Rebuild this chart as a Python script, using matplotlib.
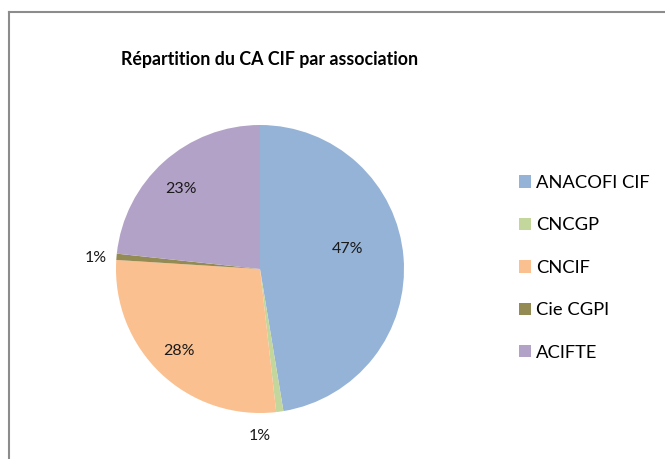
import numpy as np
import matplotlib
matplotlib.use("Agg")
import matplotlib.pyplot as plt
from matplotlib.lines import Line2D

# -----------------------------
# DATA
# -----------------------------
associations = ["ANACOFI CIF", "CNCGP", "CNCIF", "Cie CGPI", "ACIFTE"]
shares = [47.4, 0.8, 27.8, 0.7, 23.3]
pct_labels = ["47%", "1%", "28%", "1%", "23%"]
colors = ["#95B3D7", "#C3D69B", "#FAC090", "#948A54", "#B3A2C7"]

# label placement (radius in pie units, angular nudge in degrees)
label_radius = [0.62, 1.16, 0.80, 1.14, 0.78]
label_nudge = [8, -8, -1, 1, 3]

plt.rcParams['font.family'] = ['Lato', 'DejaVu Sans']

W, H = 665, 459
fig = plt.figure(figsize=(W / 100, H / 100), dpi=100)

# chart border (only top/left visible in the crop)
fig.add_artist(Line2D([9 / W, 9 / W], [0, 1 - 12 / H], color="#8c8c8c", lw=1.5))
fig.add_artist(Line2D([9 / W, 1], [1 - 12 / H, 1 - 12 / H], color="#8c8c8c", lw=1.5))

fig.text(270 / W, 1 - 60 / H, "Répartition du CA CIF par association",
         ha="center", va="center", fontsize=12.8, fontweight="bold")

cx, cy, r = 260, 269, 144
ax = fig.add_axes([(cx - r) / W, (H - cy - r) / H, 2 * r / W, 2 * r / H])
wedges, _ = ax.pie(shares, colors=colors, startangle=90, counterclock=False)
ax.set_xlim(-1, 1)
ax.set_ylim(-1, 1)
ax.set_aspect("equal")
ax.axis("off")

for w, txt, rad, nudge in zip(wedges, pct_labels, label_radius, label_nudge):
    mid = np.deg2rad((w.theta1 + w.theta2) / 2 + nudge)
    ax.text(rad * np.cos(mid), rad * np.sin(mid), txt, ha="center", va="center",
            fontsize=11.5, color="#1a1a1a", clip_on=False)

fig.legend(wedges, associations, loc="upper left",
           bbox_to_anchor=(519 / W, 1 - 175 / H), frameon=False,
           fontsize=13.2, handlelength=0.66, handleheight=0.66,
           handletextpad=0.27, labelspacing=1.44, borderpad=0, borderaxespad=0)

fig.savefig("out.png", dpi=100)
